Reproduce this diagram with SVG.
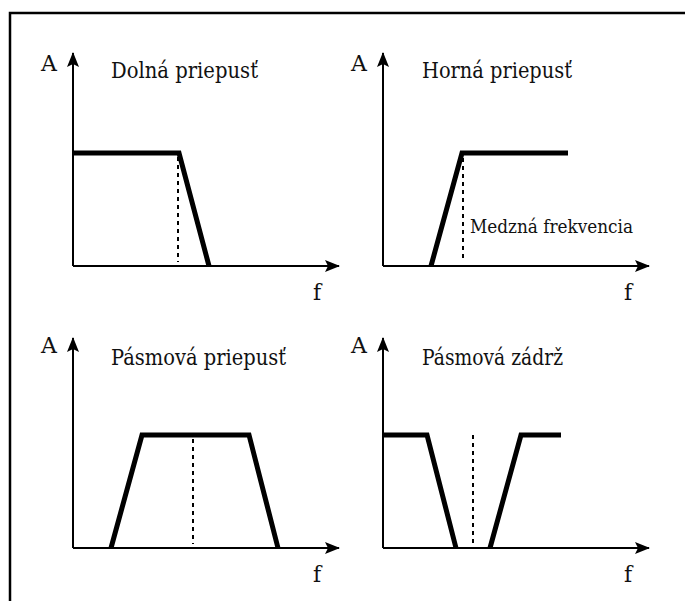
<svg xmlns="http://www.w3.org/2000/svg" width="685" height="601" viewBox="0 0 685 601">
<style>
.axis{stroke:#000;stroke-width:2;fill:none}
.curve{stroke:#000;stroke-width:5;fill:none;stroke-linejoin:miter}
.dot{stroke:#000;stroke-width:2;stroke-dasharray:4 4;fill:none}
.t{font-size:22px}
.h{font-size:23px}
.n{font-size:18px}
</style>
<defs>
<marker id="ah" markerWidth="16" markerHeight="12" refX="14" refY="6" orient="auto" markerUnits="userSpaceOnUse">
<path d="M0,0 L15,6 L0,12 L3,6 Z" fill="#000"/>
</marker>
</defs>
<rect width="685" height="601" fill="#fff"/>
<path d="M10,601 V13 H685" stroke="#000" stroke-width="2.5" fill="none"/>
<g fill="#111" font-family="DejaVu Serif, serif">
<g id="lowpass">
<text class="t" x="41" y="71">A</text>
<text class="h" x="111" y="78" textLength="147" lengthAdjust="spacingAndGlyphs">Dolná priepusť</text>
<text class="t" x="313" y="300">f</text>
<polyline class="curve" points="73,153 179,153 209,266"/>
<line class="dot" x1="178" y1="157" x2="178" y2="262"/>
</g>
<g id="highpass">
<text class="t" x="351" y="71">A</text>
<text class="h" x="422" y="78" textLength="150" lengthAdjust="spacingAndGlyphs">Horná priepusť</text>
<text class="t" x="624" y="300">f</text>
<polyline class="curve" points="431,266 462,153 568,153"/>
<line class="dot" x1="463" y1="158" x2="463" y2="262"/>
<text class="n" x="470" y="233" textLength="163" lengthAdjust="spacingAndGlyphs">Medzná frekvencia</text>
</g>
<g id="bandpass">
<text class="t" x="41" y="353">A</text>
<text class="h" x="111" y="365" textLength="175" lengthAdjust="spacingAndGlyphs">Pásmová priepusť</text>
<text class="t" x="313" y="582">f</text>
<polyline class="curve" points="111,548 142,435 249,435 278,548"/>
<line class="dot" x1="193" y1="439" x2="193" y2="544"/>
</g>
<g id="bandstop">
<text class="t" x="351" y="353">A</text>
<text class="h" x="422" y="365" textLength="141" lengthAdjust="spacingAndGlyphs">Pásmová zádrž</text>
<text class="t" x="624" y="582">f</text>
<polyline class="curve" points="383,435 427,435 456,548"/>
<polyline class="curve" points="490,548 521,435 561,435"/>
<line class="dot" x1="473" y1="435" x2="473" y2="544"/>
</g>
</g>
<g id="connectors">
<line class="axis" x1="73" y1="266" x2="73" y2="53" marker-end="url(#ah)"/>
<line class="axis" x1="73" y1="266" x2="339" y2="266" marker-end="url(#ah)"/>
<line class="axis" x1="383" y1="266" x2="383" y2="53" marker-end="url(#ah)"/>
<line class="axis" x1="383" y1="266" x2="649" y2="266" marker-end="url(#ah)"/>
<line class="axis" x1="73" y1="548" x2="73" y2="338" marker-end="url(#ah)"/>
<line class="axis" x1="73" y1="548" x2="339" y2="548" marker-end="url(#ah)"/>
<line class="axis" x1="383" y1="548" x2="383" y2="338" marker-end="url(#ah)"/>
<line class="axis" x1="383" y1="548" x2="649" y2="548" marker-end="url(#ah)"/>
</g>
</svg>
